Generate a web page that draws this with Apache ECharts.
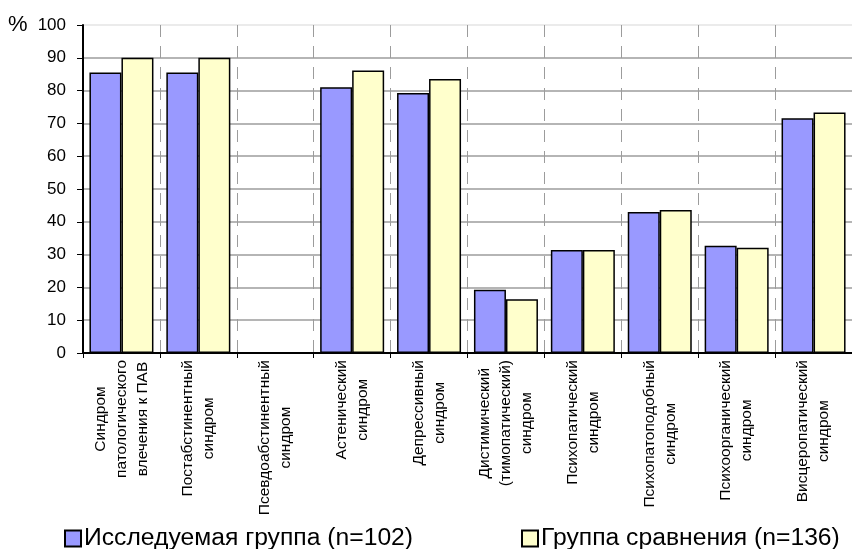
<!DOCTYPE html>
<html>
<head>
<meta charset="utf-8">
<script src="https://cdn.jsdelivr.net/npm/echarts@6/dist/echarts.min.js"></script>
<style>
  html, body { margin: 0; padding: 0; background: #fff; }
  #chart { width: 852px; height: 549px; }
</style>
</head>
<body>
<div id="chart"></div>
<script>
// Syndrome categories (multi-line labels)
const categories = [
  'Синдром\nпатологического\nвлечения к ПАВ',
  'Постабстинентный\nсиндром',
  'Псевдоабстинентный\nсиндром',
  'Астенический\nсиндром',
  'Депрессивный\nсиндром',
  'Дистимический\n(тимопатический)\nсиндром',
  'Психопатический\nсиндром',
  'Психопатоподобный\nсиндром',
  'Психоорганический\nсиндром',
  'Висцеропатический\nсиндром'
];

const seriesNames = ['Исследуемая группа (n=102)', 'Группа сравнения (n=136)'];

// Share of patients, %
const studyGroup      = [85.5, 85.5, 0, 81.0, 79.3, 19.3, 31.4, 43.0, 32.7, 71.6];
const comparisonGroup = [90.0, 90.0, 0, 86.1, 83.5, 16.4, 31.4, 43.6, 32.1, 73.3];

const yTicks = { min: 0, max: 100, interval: 10 };
const unitLabel = '%';

const FONT = '"Liberation Sans", Arial, sans-serif';

// split line colours: the top line (100) is lighter than the rest
const hLineColors = [];
for (let v = yTicks.min; v <= yTicks.max; v += yTicks.interval) {
  hLineColors.push(v === yTicks.max ? '#e4e4e4' : '#9c9c9c');
}

const legendText = { fontFamily: FONT, fontSize: 24.7, color: '#000', padding: [0, 0, 0, -2] };

const chart = echarts.init(document.getElementById('chart'), null, { renderer: 'canvas' });

chart.setOption({
  animation: false,
  backgroundColor: '#ffffff',
  title: {
    text: unitLabel,
    left: 8,
    top: 14,
    padding: 0,
    textStyle: { fontFamily: FONT, fontSize: 22, fontWeight: 'normal', color: '#000' }
  },
  grid: { left: 83, top: 25, right: -8, bottom: 196, containLabel: false },
  legend: [
    {
      data: [seriesNames[0]],
      left: 64, top: 526, padding: 0,
      icon: 'rect', itemWidth: 16, itemHeight: 16,
      textStyle: legendText
    },
    {
      data: [seriesNames[1]],
      left: 521, top: 526, padding: 0,
      icon: 'rect', itemWidth: 16, itemHeight: 16,
      textStyle: legendText
    }
  ],
  xAxis: {
    type: 'category',
    data: categories,
    boundaryGap: true,
    axisLine: { show: true, lineStyle: { color: '#000', width: 2 } },
    axisTick: { show: true, inside: false, length: 5, alignWithLabel: false, lineStyle: { color: '#000', width: 1 } },
    splitLine: {
      show: true,
      interval: 0,
      lineStyle: { color: '#9c9c9c', width: 1, type: [12, 9] }
    },
    axisLabel: {
      interval: 0,
      rotate: 90,
      margin: 7,
      color: '#000',
      fontFamily: FONT,
      fontSize: 15.5,
      lineHeight: 21,
      formatter: function (v) {
        return v.split('\n').map(function (s) { return '{c|' + s + '}'; }).join('\n');
      },
      rich: {
        c: { align: 'center', fontFamily: FONT, fontSize: 15.5, lineHeight: 21, color: '#000' }
      }
    }
  },
  yAxis: {
    type: 'value',
    min: yTicks.min,
    max: yTicks.max,
    interval: yTicks.interval,
    axisLine: { show: true, lineStyle: { color: '#000', width: 2 } },
    axisTick: { show: true, inside: false, length: 6, lineStyle: { color: '#000', width: 1 } },
    axisLabel: { margin: 17, color: '#000', fontFamily: FONT, fontSize: 17 },
    splitLine: { show: true, lineStyle: { color: hLineColors, width: 1.5 } }
  },
  series: [
    {
      name: seriesNames[0],
      type: 'bar',
      data: studyGroup,
      barWidth: 32,
      barGap: '0%',
      itemStyle: { color: '#9999ff', borderColor: '#000', borderWidth: 1.5 }
    },
    {
      name: seriesNames[1],
      type: 'bar',
      data: comparisonGroup,
      barWidth: 32,
      barGap: '0%',
      itemStyle: { color: '#ffffcc', borderColor: '#000', borderWidth: 1.5 }
    }
  ]
});
</script>
</body>
</html>
